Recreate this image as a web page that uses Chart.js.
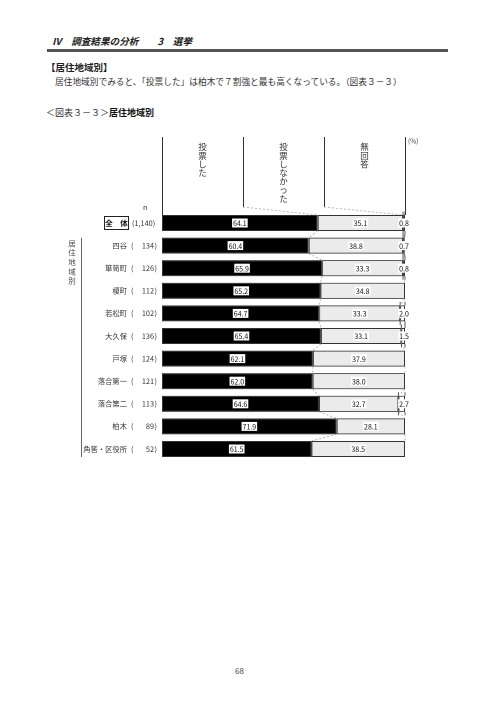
<!DOCTYPE html>
<html lang="ja">
<head>
<meta charset="utf-8">
<script src="https://cdn.jsdelivr.net/npm/chart.js@4.4.1/dist/chart.umd.min.js"></script>
<style>
    html, body { margin: 0; padding: 0; background: #fff; }
    body { width: 496px; height: 702px; position: relative; overflow: hidden; font-family: "Noto Sans CJK JP", sans-serif; color: #222; }
    .t { position: absolute; white-space: nowrap; line-height: 1; }
    #chart { position: absolute; left: 0; top: 0; }
</style>
</head>
<body>
<div class="t" style="left:52px;top:37px;font-size:9.6px;font-weight:bold;font-style:italic;">Ⅳ　調査結果の分析　　3　選挙</div>
<div style="position:absolute;left:47px;top:49px;width:401px;height:3px;background:#555;"></div>
<div class="t" style="left:46px;top:63px;font-size:9.5px;font-weight:bold;">【居住地域別】</div>
<div class="t" style="left:55px;top:78px;font-size:8.7px;color:#333;">居住地域別でみると、「投票した」は柏木で７割強と最も高くなっている。（図表３－３）</div>
<div class="t" style="left:46px;top:108px;font-size:9px;color:#333;">＜図表３－３＞<b style="color:#111;">居住地域別</b></div>
<div class="t" style="left:235px;top:667px;font-size:8px;color:#444;">68</div>
<canvas id="chart" width="496" height="702"></canvas>
<script>
    const categories = ["全体", "四谷", "箪笥町", "榎町", "若松町", "大久保", "戸塚", "落合第一", "落合第二", "柏木", "角筈・区役所"];
    const counts = ["1,140", "134", "126", "112", "102", "136", "124", "121", "113", "89", "52"];
    const seriesNames = ["投票した", "投票しなかった", "無回答"];
    const voted = [64.1, 60.4, 65.9, 65.2, 64.7, 65.4, 62.1, 62.0, 64.6, 71.9, 61.5];
    const notVoted = [35.1, 38.8, 33.3, 34.8, 33.3, 33.1, 37.9, 38.0, 32.7, 28.1, 38.5];
    const noAnswer = [0.8, 0.7, 0.8, 0, 2.0, 1.5, 0, 0, 2.7, 0, 0];

    const font = "\"Noto Sans CJK JP\", sans-serif";
    const series = [voted, notVoted, noAnswer];
    const fills = ["#000000", "#ebebeb", "#ffffff"];

    function verticalText(ctx, text, x, y, step) {
        ctx.textAlign = "center";
        ctx.textBaseline = "middle";
        Array.from(text).forEach((ch, i) => ctx.fillText(ch, x, y + i * step));
    }

    function boxedLabel(ctx, text, x, y) {
        ctx.font = `7px ${font}`;
        const w = ctx.measureText(text).width;
        ctx.fillStyle = "#fff";
        ctx.fillRect(x - w / 2 - 1, y - 4.5, w + 2, 9);
        ctx.fillStyle = "#111";
        ctx.textAlign = "center";
        ctx.textBaseline = "middle";
        ctx.fillText(text, x, y + 0.5);
    }

    // header, connectors, row labels and value labels
    const surveyDecor = {
        id: "surveyDecor",
        afterDatasetsDraw(chart) {
            const ctx = chart.ctx;
            const xs = chart.scales.x;
            const ys = chart.scales.y;
            const bar = chart.getDatasetMeta(0).data[0].getProps(["y", "height"], true);
            const half = bar.height / 2;
            const firstTop = bar.y - half;

            ctx.save();

            // header columns
            ctx.strokeStyle = "#333";
            ctx.lineWidth = 1;
            const headTop = 137, headBottom = 207;
            for (let k = 0; k <= 3; k++) {
                const px = Math.round(xs.getPixelForValue(100 * k / 3)) + 0.5;
                ctx.beginPath();
                ctx.moveTo(px, headTop);
                ctx.lineTo(px, (k === 0 || k === 3) ? firstTop : headBottom);
                ctx.stroke();
            }
            ctx.fillStyle = "#333";
            ctx.font = `8.5px ${font}`;
            seriesNames.forEach((name, k) => {
                verticalText(ctx, name, xs.getPixelForValue(100 * (k + 0.5) / 3), 147, 8.6);
            });
            ctx.font = `6.5px ${font}`;
            ctx.textAlign = "left";
            ctx.fillText("(%)", 408, 141);

            // dashed connectors
            ctx.strokeStyle = "#aaa";
            ctx.setLineDash([2, 2]);
            ctx.lineWidth = 0.8;
            [1, 2].forEach(k => {
                ctx.beginPath();
                ctx.moveTo(xs.getPixelForValue(100 * k / 3), headBottom);
                ctx.lineTo(xs.getPixelForValue(voted[0] + (k === 2 ? notVoted[0] : 0)), firstTop);
                ctx.stroke();
            });
            for (let i = 0; i < categories.length - 1; i++) {
                const yb = ys.getPixelForValue(i) + half;
                const yt = ys.getPixelForValue(i + 1) - half;
                [[voted[i], voted[i + 1]], [voted[i] + notVoted[i], voted[i + 1] + notVoted[i + 1]]].forEach(([a, b]) => {
                    ctx.beginPath();
                    ctx.moveTo(xs.getPixelForValue(a), yb);
                    ctx.lineTo(xs.getPixelForValue(b), yt);
                    ctx.stroke();
                });
            }
            ctx.setLineDash([]);

            // value labels
            categories.forEach((cat, i) => {
                const yc = ys.getPixelForValue(i);
                let start = 0;
                series.forEach((vals, d) => {
                    const v = vals[i];
                    const a = xs.getPixelForValue(start);
                    const b = xs.getPixelForValue(start + v);
                    start += v;
                    if (!v) return;
                    const text = v.toFixed(1);
                    if (v < 5) {
                        ctx.strokeStyle = "#333";
                        ctx.lineWidth = 0.8;
                        [a, b].forEach(px => {
                            ctx.beginPath();
                            ctx.moveTo(px, yc - half - 3.5);
                            ctx.lineTo(px, yc - half);
                            ctx.moveTo(px, yc + half);
                            ctx.lineTo(px, yc + half + 3.5);
                            ctx.stroke();
                        });
                        boxedLabel(ctx, text, xs.getPixelForValue(100) - 1, yc);
                    } else {
                        boxedLabel(ctx, text, (a + b) / 2, yc);
                    }
                });
            });

            // row labels
            ctx.fillStyle = "#333";
            ctx.textBaseline = "middle";
            ctx.font = `7.3px ${font}`;
            ctx.textAlign = "left";
            ctx.fillText("n", 143, 207);
            categories.forEach((cat, i) => {
                const yc = ys.getPixelForValue(i);
                if (i === 0) {
                    ctx.strokeStyle = "#222";
                    ctx.lineWidth = 1;
                    ctx.strokeRect(104.5, yc - 6.5, 24, 13);
                    ctx.font = `bold 7.5px ${font}`;
                    ctx.fillStyle = "#111";
                    ctx.textAlign = "center";
                    ctx.fillText("全　体", 116.5, yc);
                    ctx.font = `7.3px ${font}`;
                    ctx.fillStyle = "#333";
                    ctx.textAlign = "left";
                    ctx.fillText(`(${counts[i]})`, 132, yc);
                    return;
                }
                ctx.textAlign = "right";
                ctx.fillText(cat, 127, yc);
                ctx.textAlign = "left";
                ctx.fillText("(", 131, yc);
                ctx.textAlign = "right";
                ctx.fillText(counts[i], 154, yc);
                ctx.textAlign = "left";
                ctx.fillText(")", 154.5, yc);
            });

            // group label
            const gTop = ys.getPixelForValue(1) - half;
            const gBottom = ys.getPixelForValue(categories.length - 1) + half;
            ctx.strokeStyle = "#666";
            ctx.lineWidth = 1;
            ctx.beginPath();
            ctx.moveTo(81.5, gTop);
            ctx.lineTo(81.5, gBottom);
            ctx.stroke();
            ctx.fillStyle = "#444";
            ctx.font = `7.5px ${font}`;
            verticalText(ctx, "居住地域別", 72, gTop + 6, 9.3);

            ctx.restore();
        }
    };

    new Chart(document.getElementById("chart"), {
        type: "bar",
        data: {
            labels: categories,
            datasets: series.map((vals, d) => ({
                label: seriesNames[d],
                data: vals,
                backgroundColor: fills[d],
                borderColor: "#333",
                borderWidth: 1,
                borderSkipped: false,
                barPercentage: 0.71,
                categoryPercentage: 1
            }))
        },
        options: {
            indexAxis: "y",
            responsive: false,
            animation: false,
            devicePixelRatio: 2,
            layout: { padding: { left: 162, right: 91, top: 211.7, bottom: 241.7 } },
            scales: {
                x: { stacked: true, min: 0, max: 100, display: false },
                y: { stacked: true, display: false }
            },
            plugins: { legend: { display: false }, tooltip: { enabled: false } }
        },
        plugins: [surveyDecor]
    });
</script>
</body>
</html>
